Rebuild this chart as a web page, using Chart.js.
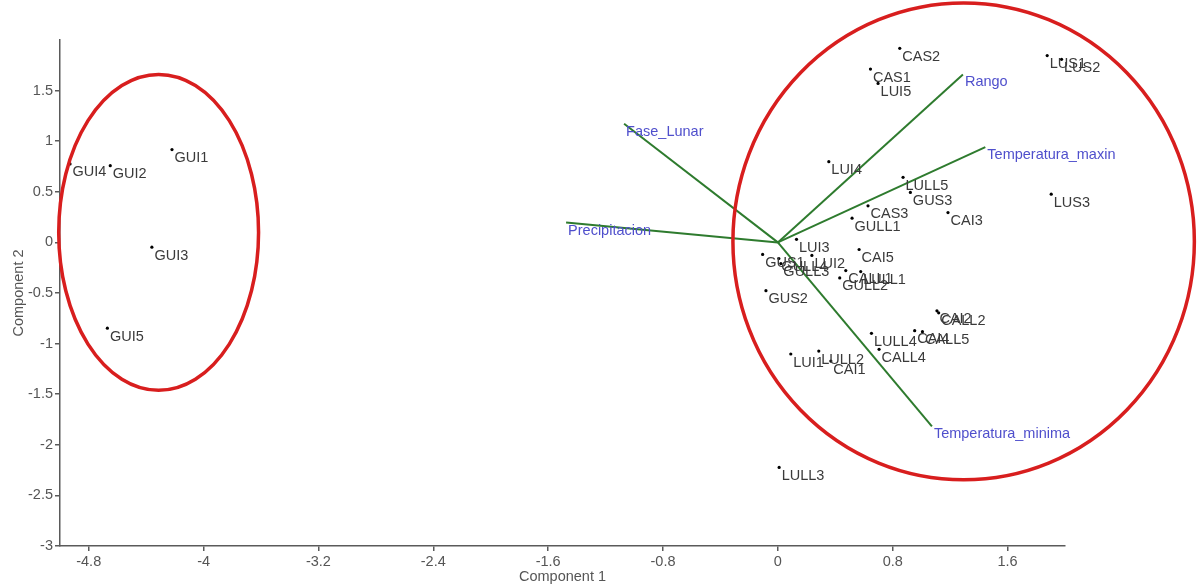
<!DOCTYPE html>
<html>
<head>
<meta charset="utf-8">
<title>Biplot Component 1 vs Component 2</title>
<script src="https://cdn.jsdelivr.net/npm/chart.js@4/dist/chart.umd.min.js"></script>
<style>
  html, body { margin: 0; padding: 0; background: #ffffff; }
  #wrap { width: 1197px; height: 586px; position: relative; }
</style>
</head>
<body>
<div id="wrap"><canvas id="biplot"></canvas></div>
<script>
// Sample scores on the first two components
const sampleNames = [
  'GUI1','GUI2','GUI3','GUI4','GUI5',
  'CAS1','CAS2','CAS3','LUI5','LUS1','LUS2','LUS3','LUI4','LULL5','GUS3',
  'GULL1','CAI3','LUI3','GUS1','GULL4','GULL3','LUI2','CAI5','CALL1','GULL2',
  'LULL1','GUS2','CAI2','CALL2','LULL4','CALL4','CAI4','CALL5','LUI1','LULL2',
  'CAI1','LULL3'
];
const pc1 = [
  -4.22, -4.65, -4.36, -4.93, -4.67,
  0.645, 0.849, 0.628, 0.698, 1.876, 1.976, 1.904, 0.355, 0.872, 0.923,
  0.517, 1.185, 0.130, -0.106, 0.007, 0.021, 0.237, 0.566, 0.473, 0.431,
  0.577, -0.083, 1.108, 1.120, 0.652, 0.705, 0.953, 1.007, 0.090, 0.285,
  0.369, 0.009
];
const pc2 = [
  0.917, 0.758, -0.047, 0.775, -0.848,
  1.713, 1.918, 0.361, 1.571, 1.846, 1.809, 0.477, 0.798, 0.643, 0.494,
  0.239, 0.295, 0.030, -0.119, -0.159, -0.209, -0.129, -0.070, -0.278, -0.351,
  -0.288, -0.477, -0.676, -0.696, -0.898, -1.057, -0.872, -0.882, -1.103, -1.074,
  -1.173, -2.224
];

// Variable loadings (vectors from the origin)
const variableNames = ['Fase_Lunar', 'Precipitacion', 'Rango', 'Temperatura_maxin', 'Temperatura_minima'];
const loadX = [-1.071, -1.475, 1.289, 1.445, 1.073];
const loadY = [1.173, 0.196, 1.660, 0.941, -1.819];

// Axis tick values
const xTickValues = [-4.8, -4, -3.2, -2.4, -1.6, -0.8, 0, 0.8, 1.6];
const xTickLabels = ['-4.8', '-4', '-3.2', '-2.4', '-1.6', '-0.8', '0', '0.8', '1.6'];
const yTickValues = [-3, -2.5, -2, -1.5, -1, -0.5, 0, 0.5, 1, 1.5];
const yTickLabels = ['-3', '-2.5', '-2', '-1.5', '-1', '-0.5', '0', '0.5', '1', '1.5'];

// Group outlines (centre and half-axes in component units)
const groupCx = [-4.313, 1.294];
const groupCy = [0.099, 0.010];
const groupRx = [0.696, 1.607];
const groupRy = [1.561, 2.356];

const FONT = "'Liberation Sans', Arial, sans-serif";
const AXIS_COLOR = '#5a5a5a';

const points = sampleNames.map((n, i) => ({ x: pc1[i], y: pc2[i], name: n }));

const vectorSets = variableNames.map((n, i) => ({
  type: 'line',
  label: n,
  data: [{ x: 0, y: 0 }, { x: loadX[i], y: loadY[i] }],
  borderColor: '#2e7b2e',
  borderWidth: 2,
  pointRadius: 0,
  fill: false,
  order: 2
}));

const overlayPlugin = {
  id: 'biplotOverlay',
  afterDatasetsDraw(chart) {
    const { ctx, scales: { x, y } } = chart;
    ctx.save();
    // group outlines
    ctx.strokeStyle = '#d81e1e';
    ctx.lineWidth = 3.5;
    for (let i = 0; i < groupCx.length; i++) {
      const cx = x.getPixelForValue(groupCx[i]);
      const cy = y.getPixelForValue(groupCy[i]);
      const rx = Math.abs(x.getPixelForValue(groupCx[i] + groupRx[i]) - cx);
      const ry = Math.abs(y.getPixelForValue(groupCy[i] + groupRy[i]) - cy);
      ctx.beginPath();
      ctx.ellipse(cx, cy, rx, ry, 0, 0, Math.PI * 2);
      ctx.stroke();
    }
    ctx.font = '14.5px ' + FONT;
    ctx.textAlign = 'left';
    ctx.textBaseline = 'middle';
    // sample labels
    ctx.fillStyle = '#3a3a3a';
    points.forEach(p => {
      ctx.fillText(p.name, x.getPixelForValue(p.x) + 2.5, y.getPixelForValue(p.y) + 8.5);
    });
    // variable labels
    ctx.fillStyle = '#4f4fcc';
    variableNames.forEach((n, i) => {
      ctx.fillText(n, x.getPixelForValue(loadX[i]) + 2, y.getPixelForValue(loadY[i]) + 8);
    });
    ctx.restore();
  }
};

new Chart(document.getElementById('biplot'), {
  type: 'scatter',
  data: {
    datasets: [
      ...vectorSets,
      {
        label: 'Muestras',
        data: points,
        backgroundColor: '#000000',
        borderColor: '#000000',
        pointRadius: 1.6,
        borderWidth: 0,
        order: 1
      }
    ]
  },
  options: {
    responsive: true,
    maintainAspectRatio: false,
    animation: false,
    events: [],
    layout: { padding: { top: 40, right: 132, left: 0, bottom: 0 } },
    plugins: {
      legend: { display: false },
      tooltip: { enabled: false }
    },
    scales: {
      x: {
        type: 'linear',
        min: -5,
        max: 2,
        afterBuildTicks: s => { s.ticks = xTickValues.map(v => ({ value: v })); },
        afterFit: s => { s.height = 40; },
        ticks: {
          autoSkip: false,
          maxRotation: 0,
          padding: 2,
          color: '#555555',
          font: { family: FONT, size: 14.5 },
          callback: (v, i) => xTickLabels[i]
        },
        grid: { drawOnChartArea: false, drawTicks: true, tickLength: 5, color: AXIS_COLOR, lineWidth: 1.5 },
        border: { display: true, color: AXIS_COLOR, width: 1.5 },
        title: {
          display: true,
          text: 'Component 1',
          color: '#555555',
          font: { family: FONT, size: 14.5 },
          padding: { top: 0, bottom: 0 }
        }
      },
      y: {
        type: 'linear',
        min: -3,
        max: 2,
        afterBuildTicks: s => { s.ticks = yTickValues.map(v => ({ value: v })); },
        afterFit: s => { s.width = 60; },
        ticks: {
          autoSkip: false,
          padding: 2,
          color: '#555555',
          font: { family: FONT, size: 14.5 },
          callback: (v, i) => yTickLabels[i]
        },
        grid: { drawOnChartArea: false, drawTicks: true, tickLength: 5, color: AXIS_COLOR, lineWidth: 1.5 },
        border: { display: true, color: AXIS_COLOR, width: 1.5 },
        title: {
          display: true,
          text: 'Component 2',
          color: '#555555',
          font: { family: FONT, size: 14.5 },
          padding: { top: 10, bottom: 0 }
        }
      }
    }
  },
  plugins: [overlayPlugin]
});
</script>
</body>
</html>
